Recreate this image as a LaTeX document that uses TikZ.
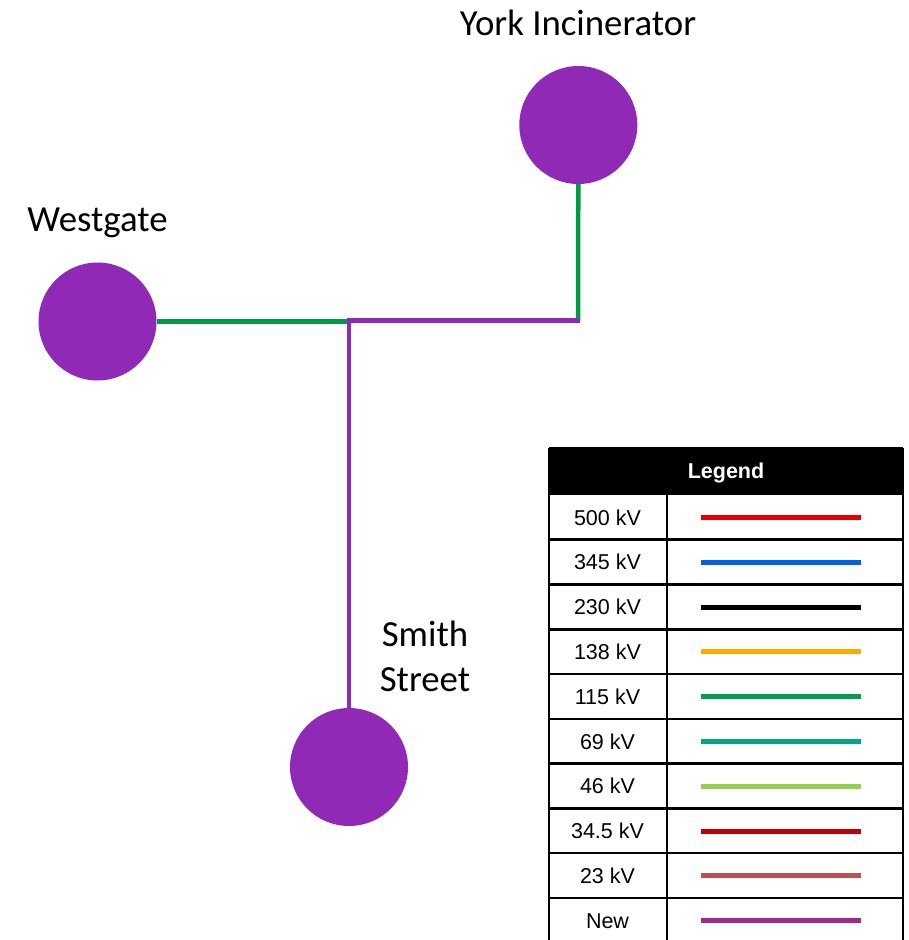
\documentclass[tikz,border=0pt]{standalone}
\usepackage{fontspec}
\newfontfamily\calibri{Carlito}
\newfontfamily\arialf{Liberation Sans}
\definecolor{subpurple}{RGB}{144,41,181}
\definecolor{kvgreen}{RGB}{0,154,68}
\definecolor{c500}{RGB}{230,0,0}
\definecolor{c345}{RGB}{0,96,230}
\definecolor{c230}{RGB}{0,0,0}
\definecolor{c138}{RGB}{255,170,0}
\definecolor{c115}{RGB}{0,160,80}
\definecolor{c69}{RGB}{0,168,128}
\definecolor{c46}{RGB}{146,208,80}
\definecolor{c345b}{RGB}{192,0,0}
\definecolor{c23}{RGB}{192,80,77}
\definecolor{cnew}{RGB}{160,40,143}
\begin{document}
\begin{tikzpicture}[x=1pt,y=-1pt,
  substation/.style={circle,fill=subpurple,minimum size=118pt,inner sep=0pt},
  placename/.style={font=\calibri\fontsize{36.8}{45}\selectfont,anchor=base,inner sep=0pt,align=center},
  linegreen/.style={draw=kvgreen,line width=4.5pt},
  linepurple/.style={draw=subpurple,line width=4.5pt,line join=miter},
  legtext/.style={font=\arialf\fontsize{21.5}{24}\selectfont,inner sep=0pt},
  legrule/.style={draw=black,line width=2.6pt},
  legsample/.style={line width=5pt}]
\useasboundingbox (0,0) rectangle (909,940);
% substations
\node[substation] (york) at (578.3,125) {};
\node[substation] (west) at (97.5,321.5) {};
\node[substation] (smith) at (349,767) {};
% labels
\node[placename] (yorklbl) at (578,35) {York Incinerator};
\node[placename] (westlbl) at (97.5,231.5) {Westgate};
\node[placename] (smithlbl) at (425,691) {Smith\\Street};
% junctions
\coordinate (jw) at (349,321.5);
\coordinate (jn) at (349,320.5);
\coordinate (corner) at (578,320.5);
% lines
\draw[linegreen] (west.east) -- (jw);
\draw[linegreen] (york.south) -- (corner);
\draw[linepurple] ([xshift=2pt]corner) -- ([xshift=-2pt]jn) -- (jn) -- (smith.north);
% legend
\fill[black] (549,448) rectangle (903,495);
\node[font=\arialf\bfseries\fontsize{21.5}{24}\selectfont,text=white,inner sep=0pt] (legtitle) at (726,473) {Legend};
\draw[legrule] (549,448) -- (549,945);
\draw[legrule] (903,448) -- (903,945);
\draw[legrule] (549,448) -- (903,448);
\draw[legrule] (667,495) -- (667,945);
\foreach \yy in {539.5,584.5,629.5,674,719,763.5,808.5,853,898}
  \draw[legrule] (549,\yy) -- (903,\yy);
\foreach \lab/\col [count=\i from 0] in {500 kV/c500,345 kV/c345,230 kV/c230,138 kV/c138,115 kV/c115,69 kV/c69,46 kV/c46,34.5 kV/c345b,23 kV/c23,New/cnew}{
  \pgfmathsetmacro{\yc}{517.5+44.8*\i}
  \node[legtext] (leg\i) at (607.5,\yc) {\lab};
  \draw[legsample,draw=\col] (701,\yc) -- (861,\yc);
}
\end{tikzpicture}
\end{document}
